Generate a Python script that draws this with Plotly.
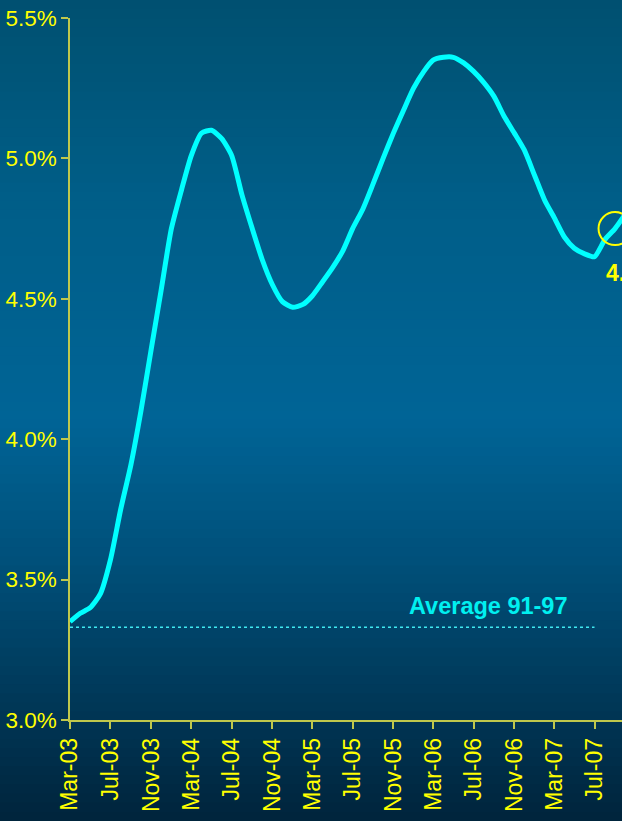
import plotly.graph_objects as go

# ---- data ----
months = [
    "2003-03-01", "2003-04-01", "2003-05-01", "2003-06-01", "2003-07-01", "2003-08-01",
    "2003-09-01", "2003-10-01", "2003-11-01", "2003-12-01", "2004-01-01", "2004-02-01",
    "2004-03-01", "2004-04-01", "2004-05-01", "2004-06-01", "2004-07-01", "2004-08-01",
    "2004-09-01", "2004-10-01", "2004-11-01", "2004-12-01", "2005-01-01", "2005-02-01",
    "2005-03-01", "2005-04-01", "2005-05-01", "2005-06-01", "2005-07-01", "2005-08-01",
    "2005-09-01", "2005-10-01", "2005-11-01", "2005-12-01", "2006-01-01", "2006-02-01",
    "2006-03-01", "2006-04-01", "2006-05-01", "2006-06-01", "2006-07-01", "2006-08-01",
    "2006-09-01", "2006-10-01", "2006-11-01", "2006-12-01", "2007-01-01", "2007-02-01",
    "2007-03-01", "2007-04-01", "2007-05-01", "2007-06-01", "2007-07-01", "2007-08-01",
    "2007-09-01", "2007-10-01",
]
values = [
    3.35, 3.38, 3.40, 3.45, 3.57, 3.75,
    3.91, 4.10, 4.32, 4.53, 4.75, 4.89,
    5.01, 5.09, 5.10, 5.07, 5.01, 4.87,
    4.75, 4.64, 4.55, 4.49, 4.47, 4.48,
    4.51, 4.56, 4.61, 4.67, 4.75, 4.82,
    4.91, 5.00, 5.09, 5.17, 5.25, 5.31,
    5.35, 5.36, 5.36, 5.34, 5.31, 5.27,
    5.22, 5.15, 5.09, 5.03, 4.94, 4.85,
    4.79, 4.72, 4.68, 4.66, 4.65, 4.71,
    4.75, 4.80,
]
average_label = "Average 91-97"
average_value = 3.33
average_span = ["2003-03-01", "2007-07-01"]
latest_label = "4.8%"
latest_month = "2007-09-01"
latest_value = 4.75
y_ticks = [3.0, 3.5, 4.0, 4.5, 5.0, 5.5]
y_tick_text = ["3.0%", "3.5%", "4.0%", "4.5%", "5.0%", "5.5%"]

W, H = 622, 821
ML, MR, MT, MB = 70, 0, 18, 101
PW, PH = W - ML - MR, H - MT - MB

AXIS = "#bfc84c"
TICKTXT = "#ffff00"
FONT = "Liberation Sans, Arial, sans-serif"

fig = go.Figure()

fig.add_trace(go.Scatter(
    x=average_span, y=[average_value, average_value], mode="lines",
    line=dict(color="#40e8f0", width=1.5, dash="dot"), hoverinfo="skip",
))
fig.add_trace(go.Scatter(
    x=months, y=values, mode="lines",
    line=dict(color="#00ffff", width=5, shape="spline", smoothing=0.6),
))

# background gradient bands
stops = [(0, (0, 80, 112)), (200, (0, 94, 136)), (420, (0, 100, 150)),
         (560, (0, 80, 122)), (700, (0, 56, 88)), (821, (0, 36, 60))]

def col_at(py):
    for (a, ca), (b, cb) in zip(stops[:-1], stops[1:]):
        if a <= py <= b:
            t = (py - a) / (b - a)
            return "rgb(%d,%d,%d)" % tuple(round(ca[i] + (cb[i] - ca[i]) * t) for i in range(3))
    return "rgb(%d,%d,%d)" % stops[-1][1]

shapes = []
n = 90
for i in range(n):
    y0p = H * i / n
    y1p = H * (i + 1) / n + 1
    shapes.append(dict(
        type="rect", xref="paper", yref="paper", layer="below",
        x0=-ML / PW, x1=1 + 0.01,
        y0=(H - MB - y1p) / PH, y1=(H - MB - y0p) / PH,
        fillcolor=col_at((y0p + y1p) / 2), line=dict(width=0),
    ))

shapes.append(dict(
    type="circle", xref="x", yref="y", xsizemode="pixel", ysizemode="pixel",
    xanchor=latest_month, yanchor=latest_value,
    x0=-16.5, x1=16.5, y0=-16.5, y1=16.5,
    line=dict(color="#ffff00", width=2), fillcolor="rgba(0,0,0,0)",
))

fig.update_layout(
    width=W, height=H,
    margin=dict(l=ML, r=MR, t=MT, b=MB, pad=0),
    paper_bgcolor="rgb(0,60,90)", plot_bgcolor="rgba(0,0,0,0)",
    showlegend=False,
    shapes=shapes,
    font=dict(family=FONT, color=TICKTXT),
    xaxis=dict(
        type="date", range=["2003-03-01", "2007-09-22"],
        tick0="2003-03-01", dtick="M4", tickformat="%b-%y", tickangle=-90,
        ticks="outside", ticklen=7, tickwidth=1.5, tickcolor=AXIS,
        showline=True, linecolor=AXIS, linewidth=1.5,
        showgrid=False, zeroline=False,
        tickfont=dict(size=23, color=TICKTXT, family=FONT),
    ),
    yaxis=dict(
        range=[3.0, 5.5], tickmode="array", tickvals=y_ticks, ticktext=y_tick_text,
        ticks="outside", ticklen=7, tickwidth=1.5, tickcolor=AXIS,
        showline=True, linecolor=AXIS, linewidth=1.5,
        showgrid=False, zeroline=False,
        tickfont=dict(size=22.5, color=TICKTXT, family=FONT),
    ),
    annotations=[
        dict(text="<b>%s</b>" % average_label, xref="paper", yref="paper",
             x=(488 - ML) / PW, y=(H - MB - 606) / PH, showarrow=False,
             xanchor="center", yanchor="middle",
             font=dict(size=23.5, color="#00f0f0", family=FONT)),
        dict(text="<b>%s</b>" % latest_label, xref="paper", yref="paper",
             x=(604 - ML) / PW, y=(H - MB - 273) / PH, showarrow=False,
             xanchor="left", yanchor="middle",
             font=dict(size=23, color="#ffff00", family=FONT)),
    ],
)

fig.write_html(
    "out.html",
    config={"displayModeBar": False},
    post_script="document.body.style.margin='0';document.body.style.overflow='hidden';",
)
